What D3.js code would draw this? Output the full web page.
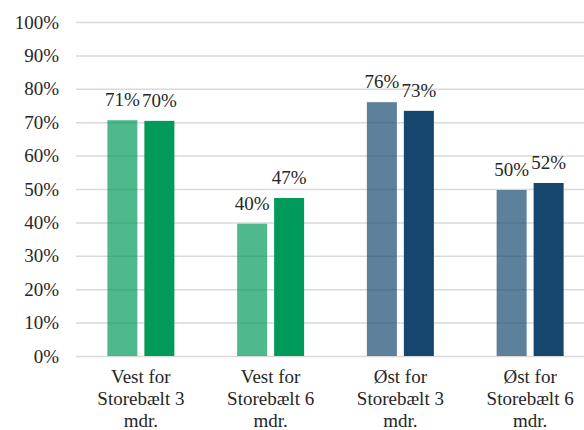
<!DOCTYPE html>
<html>
<head>
<meta charset="utf-8">
<script src="https://cdn.jsdelivr.net/npm/d3@7"></script>
<style>
  body { margin: 0; background: #fff; }
  svg text { font-family: "Liberation Serif", "Times New Roman", "DejaVu Serif", serif; fill: #262626; font-size: 19px; }
  .grid line { stroke: #d9d9d9; stroke-width: 1.5; }
  .grid .domain { display: none; }
</style>
</head>
<body>
<svg id="chart" width="584" height="430"></svg>
<script>
// chart data
const categories = ["Vest for Storebælt 3 mdr.", "Vest for Storebælt 6 mdr.",
                    "Øst for Storebælt 3 mdr.", "Øst for Storebælt 6 mdr."];
const seriesA = [0.706, 0.396, 0.760, 0.497];   // left (lighter) bar
const seriesB = [0.704, 0.473, 0.734, 0.518];   // right (darker) bar
const yTicks = [0, 0.1, 0.2, 0.3, 0.4, 0.5, 0.6, 0.7, 0.8, 0.9, 1.0];
const darkColours = ["#009a5b", "#009a5b", "#15476e", "#15476e"];

const svg = d3.select("#chart");
const margin = {left: 76, right: -11, top: 22, bottom: 74};
const width = 584 - margin.left - margin.right;
const height = 430 - margin.top - margin.bottom;

const g = svg.append("g").attr("transform", "translate(" + margin.left + "," + margin.top + ")");

const x = d3.scaleBand().domain(categories).range([0, width]).padding(0);
const y = d3.scaleLinear().domain([0, 1]).range([height, 0]);

// bars inside each group
const sub = d3.scaleBand().domain([0, 1])
  .range([x.bandwidth() / 2 - 33.5, x.bandwidth() / 2 + 33.5])
  .paddingInner(0.189);

// gridlines + y labels
const yAxis = g.append("g")
  .attr("class", "grid")
  .call(d3.axisLeft(y).tickValues(yTicks).tickFormat(d3.format(".0%"))
        .tickSize(-(584 - margin.left)).tickPadding(17));
yAxis.attr("font-family", null).attr("font-size", null);

const rows = categories.map((c, i) => ({cat: c, i: i, vals: [seriesA[i], seriesB[i]]}));

const groups = g.selectAll(".group")
  .data(rows)
  .enter().append("g")
  .attr("class", "group")
  .attr("transform", d => "translate(" + x(d.cat) + ",0)");

groups.selectAll("rect")
  .data(d => d.vals.map((v, k) => ({v: v, k: k, i: d.i})))
  .enter().append("rect")
  .attr("x", d => sub(d.k))
  .attr("width", sub.bandwidth())
  .attr("y", d => y(d.v))
  .attr("height", d => y(0) - y(d.v))
  .attr("fill", d => darkColours[d.i])
  .attr("fill-opacity", d => d.k === 0 ? 0.69 : 1);

groups.selectAll(".lbl")
  .data(d => d.vals.map((v, k) => ({v: v, k: k})))
  .enter().append("text")
  .attr("class", "lbl")
  .attr("x", d => sub(d.k) + sub.bandwidth() / 2)
  .attr("y", d => y(d.v) - 14)
  .attr("text-anchor", "middle")
  .text(d => d3.format(".0%")(d.v));

// category labels, wrapped
const xAxis = g.append("g")
  .attr("transform", "translate(0," + height + ")")
  .call(d3.axisBottom(x).tickSize(0).tickPadding(0));
xAxis.attr("font-family", null).attr("font-size", null);
xAxis.select(".domain").remove();
xAxis.selectAll("text")
  .each(function(d) {
    const t = d3.select(this);
    const words = d.split(" ");
    t.text(null);
    let line = [];
    let n = 0;
    let ts = t.append("tspan").attr("x", 0).attr("y", 27);
    words.forEach(w => {
      line.push(w);
      ts.text(line.join(" "));
      if (ts.node().getComputedTextLength() > 100 && line.length > 1) {
        line.pop();
        ts.text(line.join(" "));
        line = [w];
        n++;
        ts = t.append("tspan").attr("x", 0).attr("y", 27 + n * 22).text(w);
      }
    });
  })
  .attr("dy", null);
</script>
</body>
</html>
